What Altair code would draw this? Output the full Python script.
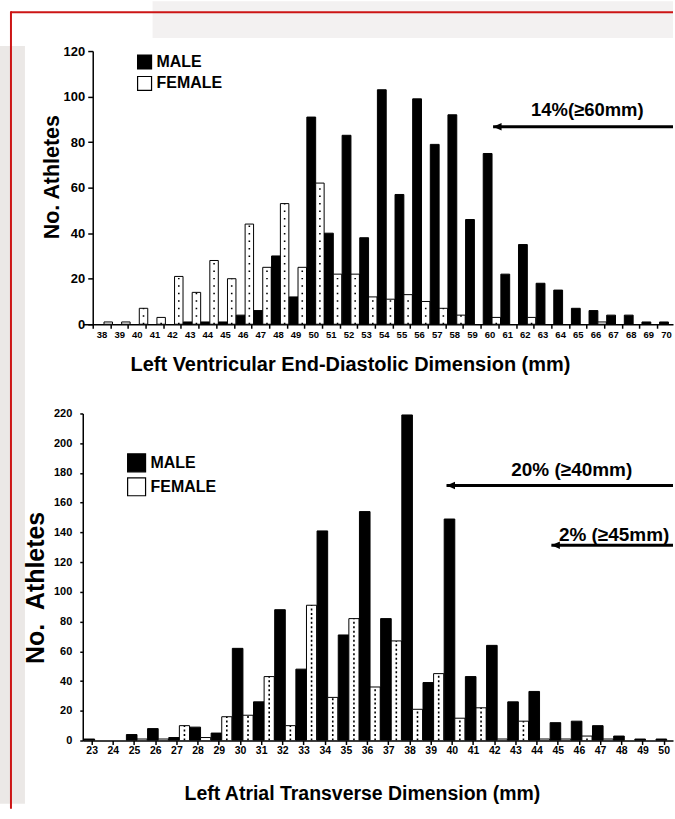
import altair as alt
import pandas as pd

FONT = "Liberation Sans"

# ---------------- data ----------------
lv_mm = list(range(38, 71))
lv_male = [0, 0, 0, 0, 0, 1, 1, 1, 4, 6, 30, 12, 91, 40, 83, 38, 103, 57, 99, 79, 92, 46,
           75, 22, 35, 18, 15, 7, 6, 4, 4, 1, 1]
lv_female = [1, 1, 7, 3, 21, 14, 28, 20, 44, 25, 53, 25, 62, 22, 22, 12, 11, 13, 10, 7, 4, 0,
             3, 0, 3, 0, 0, 0, 1, 0, 0, 0, 0]

la_mm = list(range(23, 51))
la_male = [1, 0, 4, 8, 2, 9, 5, 62, 26, 88, 48, 141, 71, 154, 82, 219, 39, 149, 43, 64, 26,
           33, 12, 13, 10, 3, 1, 1]
la_female = [0, 0, 1, 1, 10, 2, 16, 17, 43, 10, 91, 29, 82, 36, 67, 21, 45, 15, 22, 1, 13, 1,
             1, 3, 1, 0, 0, 0]

lv_y_ticks = list(range(0, 121, 20))
la_y_ticks = list(range(0, 221, 20))

# annotations: label, label position (mm, count), arrow start (mm) and arrow height (count)
lv_note_text = ["14%(\u226560mm)"]
lv_note_x = [65.54]
lv_note_y = [94.0]
lv_arrow_from = [60.2]
lv_arrow_y = [86.7]

la_note_text = ["20% (\u226540mm)", "2% (\u226545mm)"]
la_note_x = [45.66, 47.66]
la_note_y = [182.0, 138.5]
la_arrow_from = [39.75, 44.7]
la_arrow_y = [171.5, 131.3]

sexes = ["MALE", "FEMALE"]


def long_table(mm, male, female):
    rows = []
    for m, a, b in zip(mm, male, female):
        rows.append({"mm": m, "sex": "MALE", "count": a})
        rows.append({"mm": m, "sex": "FEMALE", "count": b})
    return pd.DataFrame(rows)


def panel(mm, male, female, xdom, ydom, xaxis, yaxis, legend,
          notes, arrow_w, note_size, dash, deco=None, width=592, height=274):
    df = long_table(mm, male, female)
    xscale = alt.Scale(domain=xdom, nice=False, zero=False)
    yscale = alt.Scale(domain=ydom, nice=False)

    bars = alt.Chart(df).transform_filter("datum.count > 0").transform_calculate(
        x0="datum.mm + (datum.sex == 'MALE' ? -0.36 : 0.14)",
        x1="datum.mm + (datum.sex == 'MALE' ? 0.14 : 0.62)",
        base="0",
    ).mark_rect(stroke="black", strokeWidth=1, clip=True).encode(
        x=alt.X("x0:Q", scale=xscale, axis=xaxis),
        x2="x1:Q",
        y=alt.Y("count:Q", scale=yscale, axis=yaxis),
        y2="base:Q",
        color=alt.Color("sex:N", scale=alt.Scale(domain=sexes, range=["#000000", "#ffffff"]),
                        legend=legend),
    )

    dots = alt.Chart(df).transform_filter(
        "datum.sex == 'FEMALE' && datum.count >= 3"
    ).transform_calculate(xm="datum.mm + 0.38", base="0").mark_rule(
        color="black", strokeWidth=1.6, strokeDash=dash, clip=True
    ).encode(
        x=alt.X("xm:Q", scale=xscale, axis=xaxis),
        y=alt.Y("base:Q", scale=yscale, axis=yaxis),
        y2="count:Q",
    )

    nd = pd.DataFrame({
        "label": notes[0], "tx": notes[1], "ty": notes[2],
        "ax": notes[3], "ay": notes[4], "aend": [xdom[1]] * len(notes[0]),
    })
    shaft = alt.Chart(nd).mark_rule(color="black", strokeWidth=arrow_w).encode(
        x=alt.X("ax:Q", scale=xscale, axis=xaxis), x2="aend:Q",
        y=alt.Y("ay:Q", scale=yscale, axis=yaxis),
    )
    head = alt.Chart(nd).mark_point(
        shape="M0,0L1.7,-0.75L1.7,0.75Z", filled=True, size=100, color="black", opacity=1
    ).encode(
        x=alt.X("ax:Q", scale=xscale, axis=xaxis),
        y=alt.Y("ay:Q", scale=yscale, axis=yaxis),
    )
    text = alt.Chart(nd).mark_text(
        font=FONT, fontSize=note_size, fontWeight="bold", align="center",
        baseline="middle", color="black"
    ).encode(
        x=alt.X("tx:Q", scale=xscale, axis=xaxis),
        y=alt.Y("ty:Q", scale=yscale, axis=yaxis),
        text="label:N",
    )
    layers = []
    if deco is not None:
        layers.extend(deco)
    layers.extend([bars, dots, shaft, head, text])
    return alt.layer(*layers).properties(width=width, height=height)


def axis_common(**kw):
    base = dict(
        grid=False, domainColor="black", tickColor="black", labelColor="black",
        titleColor="black", labelFont=FONT, titleFont=FONT, labelFontWeight="bold",
        titleFontWeight="bold", domainWidth=1.5, tickWidth=1.5,
    )
    base.update(kw)
    return alt.Axis(**base)


def legend_for(x, y, size, row_pad):
    return alt.Legend(
        title=None, orient="none", legendX=x, legendY=y, symbolType="square",
        symbolSize=size, symbolStrokeColor="black", symbolStrokeWidth=1.2,
        labelFont=FONT, labelFontSize=16, labelFontWeight="bold", labelColor="black",
        labelOffset=4, rowPadding=row_pad, padding=0,
    )


# ---------------- top panel ----------------
lv_xdom = [36.935, 70.4]
lv_xaxis = axis_common(
    values=[m - 0.5 for m in lv_mm], labelExpr="datum.value + 0.5", labelOffset=8.85,
    tickSize=4, labelFontSize=9.5, labelPadding=1, labelOverlap=False, labelFlush=False,
    title="Left Ventricular End-Diastolic Dimension (mm)", titleFontSize=20,
    titleX=268, titleY=40, titleAlign="center", titleBaseline="middle",
)
lv_yaxis = axis_common(
    values=lv_y_ticks, offset=-10, tickSize=5, labelFontSize=13, labelPadding=3,
    title="No. Athletes", titleFontSize=21.5, titleAngle=270, titleX=-40, titleY=126,
    titleAlign="center", titleBaseline="middle",
)

one = pd.DataFrame({"k": [0]})
deco = [
    alt.Chart(one).mark_rect(color="#f3f1f1").encode(
        x=alt.value(70), x2=alt.value(592), y=alt.value(-50), y2=alt.value(-13)),
    alt.Chart(one).mark_rect(color="#ebe8e6").encode(
        x=alt.value(-83), x2=alt.value(-58), y=alt.value(-5), y2=alt.value(755)),
    alt.Chart(one).mark_rule(color="#cc1515", strokeWidth=2).encode(
        x=alt.value(-72), x2=alt.value(592), y=alt.value(-39)),
    alt.Chart(one).mark_rule(color="#cc1515", strokeWidth=2).encode(
        x=alt.value(-72), y=alt.value(-40), y2=alt.value(760)),
]

top = panel(
    lv_mm, lv_male, lv_female, lv_xdom, [0, 120], lv_xaxis, lv_yaxis,
    legend_for(54, 3, 196, 1.5),
    (lv_note_text, lv_note_x, lv_note_y, lv_arrow_from, lv_arrow_y),
    3, 18.5, [1.5, 6], deco=deco, width=592, height=274,
)

# ---------------- bottom panel ----------------
la_xdom = [22.58, 50.44]
la_xaxis = axis_common(
    values=la_mm, tickSize=4, labelFontSize=10.5, labelPadding=1, labelOverlap=False,
    labelFlush=False,
    title="Left Atrial Transverse Dimension (mm)", titleFontSize=19.5,
    titleX=280, titleY=53, titleAlign="center", titleBaseline="middle",
)
la_yaxis = axis_common(
    values=la_y_ticks, tickSize=3, labelFontSize=11, labelPadding=8,
    title="No.\u00a0\u00a0Athletes", titleFontSize=25, titleAngle=270, titleX=-47,
    titleY=174.5, titleAlign="center", titleBaseline="middle",
)

bottom = panel(
    la_mm, la_male, la_female, la_xdom, [0, 220], la_xaxis, la_yaxis,
    legend_for(44, 39.5, 324, 0),
    (la_note_text, la_note_x, la_note_y, la_arrow_from, la_arrow_y),
    3, 19, [2, 2.5], width=592, height=328,
)

chart = alt.vconcat(top, bottom, spacing=89.5, bounds="flush").resolve_scale(
    color="independent"
).properties(padding=0, background="white").configure(
    font=FONT
).configure_view(strokeWidth=0)

chart.save("out.html", embed_options={"renderer": "svg", "actions": False})
